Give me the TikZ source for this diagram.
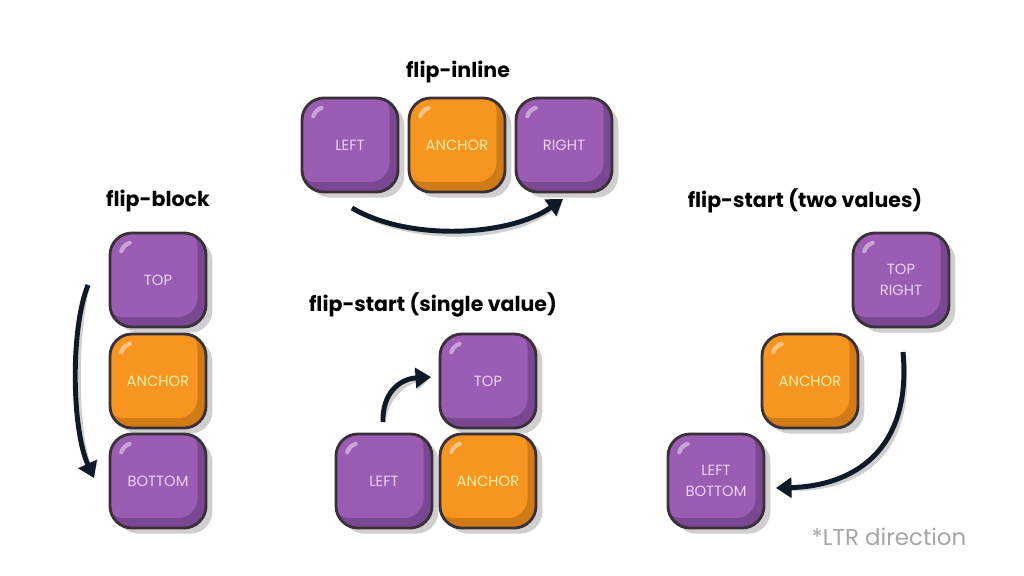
\documentclass[tikz,border=0pt]{standalone}
\usepackage{fontspec}
\setmainfont{Poppins}
\usetikzlibrary{shadows,arrows.meta}
\definecolor{pmain}{HTML}{9B5CB4}
\definecolor{pdark}{HTML}{7A4892}
\definecolor{omain}{HTML}{F6951F}
\definecolor{odark}{HTML}{D07A18}
\definecolor{outl}{HTML}{3A3038}
\definecolor{plab}{HTML}{ECD2F4}
\definecolor{olab}{HTML}{FFEFA8}
\definecolor{arr}{HTML}{0E1A28}
\definecolor{shad}{HTML}{CFCFCF}
\definecolor{note}{HTML}{A6A6A6}
\tikzset{
  box/.style={minimum width=2.4cm, minimum height=2.35cm, rounded corners=0.55cm,
    draw=outl, line width=2pt, align=center, inner sep=0pt,
    font=\fontsize{10.5}{15}\selectfont,
    drop shadow={shadow xshift=4.5pt, shadow yshift=-4pt, fill=shad, opacity=1}},
  pbox/.style={box, fill=pdark, text=plab,
    path picture={
      \fill[pmain, rounded corners=0.5cm] ([xshift=-4pt,yshift=4pt]path picture bounding box.north west) rectangle ([xshift=-6pt,yshift=7pt]path picture bounding box.south east);
      \draw[white, opacity=.45, line width=3pt, line cap=round] ([xshift=8pt,yshift=-13pt]path picture bounding box.north west) to[bend left=25] ([xshift=14pt,yshift=-7pt]path picture bounding box.north west);
    }},
  obox/.style={box, fill=odark, text=olab,
    path picture={
      \fill[omain, rounded corners=0.5cm] ([xshift=-4pt,yshift=4pt]path picture bounding box.north west) rectangle ([xshift=-6pt,yshift=7pt]path picture bounding box.south east);
      \draw[white, opacity=.45, line width=3pt, line cap=round] ([xshift=8pt,yshift=-13pt]path picture bounding box.north west) to[bend left=25] ([xshift=14pt,yshift=-7pt]path picture bounding box.north west);
    }},
  ttl/.style={font=\bfseries\fontsize{14.6}{18}\selectfont, text=black},
  flow/.style={draw=arr, line width=3.5pt, -{Triangle[length=11pt,width=14pt]}},
  flowshadow/.style={draw=shad, line width=3.5pt, -{Triangle[length=11pt,width=14pt]}}
}
\begin{document}
\begin{tikzpicture}[x=0.025cm, y=-0.025cm]
\useasboundingbox[fill=white] (0,0) rectangle (1024,576);

% titles
\node[ttl] (t1) at (458,72) {flip-inline};
\node[ttl] (t2) at (158,201) {flip-block};
\node[ttl] (t3) at (433,305) {flip-start (single value)};
\node[ttl] (t4) at (805,201) {flip-start (two values)};
\node[font=\fontsize{16.3}{19}\selectfont, text=note] (ltr) at (889,537) {*LTR direction};

% flip-inline
\node[pbox] (iL) at (350,145) {LEFT};
\node[obox] (iA) at (457,145) {ANCHOR};
\node[pbox] (iR) at (564,145) {RIGHT};

% flip-block
\node[pbox] (bT) at (158,280) {TOP};
\node[obox] (bA) at (158,381) {ANCHOR};
\node[pbox] (bB) at (158,481) {BOTTOM};

% flip-start single
\node[pbox] (sT) at (488,381) {TOP};
\node[pbox] (sL) at (384,481) {LEFT};
\node[obox] (sA) at (488,481) {ANCHOR};

% flip-start two values
\node[pbox] (dT) at (901,280) {TOP\\RIGHT};
\node[obox] (dA) at (810,381) {ANCHOR};
\node[pbox] (dL) at (716,481) {LEFT\\BOTTOM};

% arrow end coordinates
\coordinate (ia1) at (352,208);
\coordinate (ia2) at (563,199);
\coordinate (ba1) at (88,285);
\coordinate (ba2) at (94,478);
\coordinate (sa1) at (383,422);
\coordinate (sa2) at (431,377);
\coordinate (da1) at (903,352);
\coordinate (da2) at (776,488);

% shadows of arrows
\begin{scope}[shift={(4,4)}]
\draw[flowshadow] (ia1) .. controls (410,242) and (510,236) .. (ia2);
\draw[flowshadow] (ba1) .. controls (70,330) and (72,430) .. (ba2);
\draw[flowshadow] (sa1) .. controls (382,395) and (398,379) .. (sa2);
\draw[flowshadow] (da1) .. controls (912,452) and (852,486) .. (da2);
\end{scope}
% arrows
\draw[flow] (ia1) .. controls (410,242) and (510,236) .. (ia2);
\draw[flow] (ba1) .. controls (70,330) and (72,430) .. (ba2);
\draw[flow] (sa1) .. controls (382,395) and (398,379) .. (sa2);
\draw[flow] (da1) .. controls (912,452) and (852,486) .. (da2);
\end{tikzpicture}
\end{document}
